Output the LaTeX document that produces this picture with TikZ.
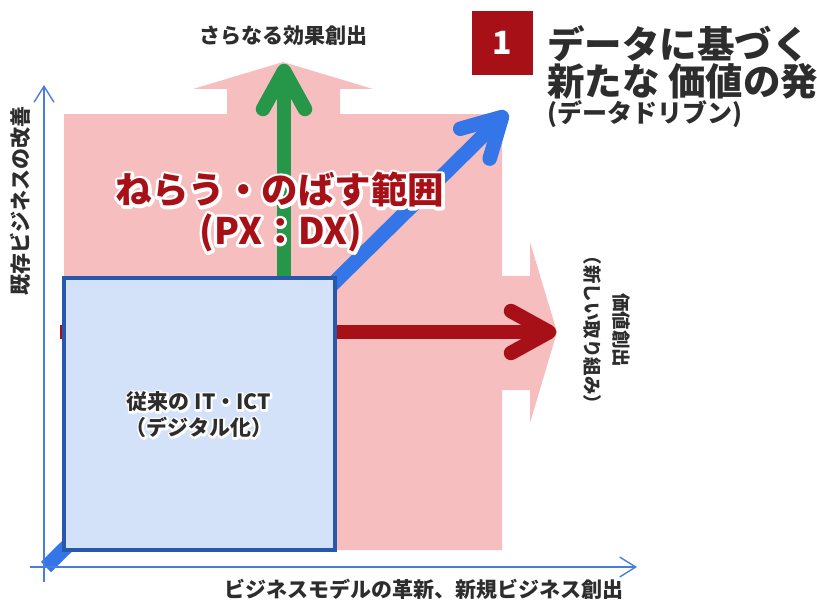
\documentclass[tikz,border=0pt]{standalone}
\usepackage{fontspec}
\setmainfont{Noto Sans CJK JP}
\usetikzlibrary{calc,arrows.meta}
\definecolor{pinkfill}{RGB}{246,190,190}
\definecolor{boxfill}{RGB}{211,226,248}
\definecolor{boxline}{RGB}{40,88,172}
\definecolor{axisblue}{RGB}{72,125,222}
\definecolor{arrgreen}{RGB}{38,150,72}
\definecolor{arrred}{RGB}{168,16,24}
\definecolor{arrblue}{RGB}{52,118,232}
\definecolor{txtgray}{RGB}{45,45,45}
% white outline behind text: one stroked copy (text render mode 2)
\newcommand\outlined[2]{\special{pdf:literal direct 2 Tr #1 w 1 j 1 1 1 RG}#2\special{pdf:literal direct 0 Tr}}
\begin{document}
\begin{tikzpicture}[x=1pt,y=-1pt,
  fat/.style={line width=14.5pt},
  head/.style={line width=14.5pt, line cap=round, line join=round},
  axisline/.style={draw=axisblue, line width=1.4pt, -{Straight Barb[length=16pt,width=20pt]}},
  lbl/.style={font=\bfseries\fontsize{21}{24}\selectfont, text=txtgray, inner sep=0pt},
  rlbl/.style={font=\bfseries\fontsize{18.5}{29}\selectfont, text=txtgray, inner sep=0pt, align=center, rotate=-90},
  title/.style={font=\bfseries\fontsize{37.5}{33}\selectfont, text=txtgray, inner sep=0pt, anchor=west, align=left},
  subtitle/.style={font=\bfseries\fontsize{25}{28}\selectfont, text=txtgray, inner sep=0pt, anchor=west},
  aimtxt/.style={font=\bfseries\fontsize{36.5}{40}\selectfont, text=arrred, inner sep=0pt},
  boxtxt/.style={font=\bfseries\fontsize{21}{26}\selectfont, text=txtgray, inner sep=0pt, align=center}]
\useasboundingbox (0,0) rectangle (817,602);

% pink block arrow region
\fill[pinkfill] (64,550) -- (64,114) -- (227,114) -- (227,89) -- (193,89) -- (283,62)
  -- (373,89) -- (340,89) -- (340,114) -- (502,114) -- (502,276) -- (530,276) -- (530,242)
  -- (557,332) -- (530,423) -- (530,390) -- (502,390) -- (502,550) -- cycle;

% arrow endpoints
\coordinate (bS) at (46,567); \coordinate (bT) at (502,117);
\coordinate (rS) at (60,332); \coordinate (rT) at (549,332);
\coordinate (gS) at (284,300); \coordinate (gT) at (284,71);

% blue diagonal arrow
\draw[fat, arrblue] (bS) -- (bT);
\draw[head, arrblue] ($(bT)!43.4pt!28.9:(bS)$) -- (bT) -- ($(bT)!43.4pt!-28.9:(bS)$);
% red horizontal arrow
\draw[fat, arrred] (rS) -- (rT);
\draw[head, arrred] ($(rT)!43.4pt!28.9:(rS)$) -- (rT) -- ($(rT)!43.4pt!-28.9:(rS)$);
% green vertical arrow
\draw[fat, arrgreen] (gS) -- (gT);
\draw[head, arrgreen] ($(gT)!43.4pt!28.9:(gS)$) -- (gT) -- ($(gT)!43.4pt!-28.9:(gS)$);

% box
\node[draw=boxline, fill=boxfill, line width=4pt, minimum width=271pt, minimum height=272pt, inner sep=0pt] (box) at (199.5,414) {};

% axes
\coordinate (yB) at (44,582); \coordinate (yT) at (44,85);
\coordinate (xL) at (30,567); \coordinate (xR) at (637,567);
\draw[axisline] (yB) -- (yT);
\draw[axisline] (xL) -- (xR);

% labels
\node[lbl] (toplab) at (283,36) {さらなる効果創出};
\node[lbl, rotate=90] (ylab) at (20,201) {既存ビジネスの改善};
\node[lbl] (xlab) at (424,589) {ビジネスモデルの革新、新規ビジネス創出};
\node[rlbl] (rlab) at (607,330) {価値創出\\（新しい取り組み）};

% box text
\node[boxtxt, text=white] (boxglow) at (199,415) {\outlined{4}{従来の IT・ICT}\\\outlined{4}{（デジタル化）}};
\node[boxtxt] (boxlab) at (boxglow) {従来の IT・ICT\\（デジタル化）};

% aim text
\node[aimtxt, text=white] (aimglow1) at (280,190) {\outlined{6}{ねらう・のばす範囲}};
\node[aimtxt, text=white] (aimglow2) at (281,233) {\outlined{6}{(PX：DX)}};
\node[aimtxt] (aim1) at (aimglow1) {ねらう・のばす範囲};
\node[aimtxt] (aim2) at (aimglow2) {(PX：DX)};

% badge and title
\node[fill=arrred, minimum width=61pt, minimum height=64pt, inner sep=0pt, text=white, font=\bfseries\fontsize{32}{32}\selectfont] (badge) at (502.5,43) {1};
\node[title] (t1) at (547,62.5) {データに基づく\\新たな 価値の発};
\node[subtitle] (t3) at (547,114) {(データドリブン)};
\end{tikzpicture}
\end{document}
